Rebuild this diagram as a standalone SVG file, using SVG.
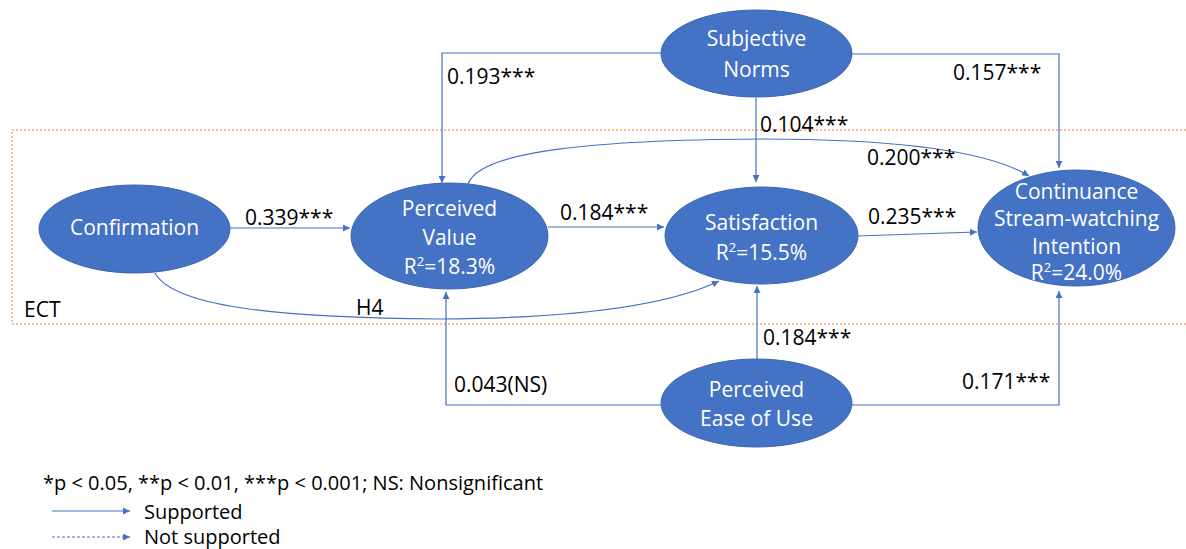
<svg xmlns="http://www.w3.org/2000/svg" width="1186" height="549" viewBox="0 0 1186 549">
<style>
.node{fill:#4472C4;stroke:#3C66B0;stroke-width:1}
.nt{font-family:"Open Sans","Noto Sans",sans-serif;font-size:21px;fill:#FFFFFF;text-anchor:middle}
.lb{font-family:"Open Sans","Noto Sans",sans-serif;font-size:21px;fill:#000000}
.lg{font-family:"Open Sans","Noto Sans",sans-serif;font-size:20px;fill:#000000}
.ln{fill:none;stroke:#4472C4;stroke-width:1.2}
.ect{fill:none;stroke:#ED7D31;stroke-width:1;stroke-dasharray:2 2}
</style>
<defs>
<marker id="ah" viewBox="0 0 10 10" refX="10" refY="5" markerWidth="7" markerHeight="7" markerUnits="userSpaceOnUse" orient="auto">
<path d="M0,0 L10,5 L0,10 z" fill="#4472C4"/>
</marker>
</defs>
<rect id="ect-box" class="ect" x="12" y="130" width="1200" height="194"/>
<text class="lb" x="24" y="317">ECT</text>
<g id="connectors">
<path class="ln" d="M230,228 L350,228" marker-end="url(#ah)"/>
<path class="ln" d="M548,227 L664,227" marker-end="url(#ah)"/>
<path class="ln" d="M857,236 L977,232" marker-end="url(#ah)"/>
<path class="ln" d="M468,184 C480,150 600,140 760,139 C900,139 990,152 1029,176" marker-end="url(#ah)"/>
<path class="ln" d="M661,53 L442,53 L442,183" marker-end="url(#ah)"/>
<path class="ln" d="M756,98 L756,182" marker-end="url(#ah)"/>
<path class="ln" d="M852,54 L1059,54 L1059,168" marker-end="url(#ah)"/>
<path class="ln" d="M661,405 L446,405 L446,292" marker-end="url(#ah)"/>
<path class="ln" d="M757,359 L757,286" marker-end="url(#ah)"/>
<path class="ln" d="M852,405 L1059,405 L1059,291" marker-end="url(#ah)"/>
<path class="ln" d="M155,273 C175,310 300,318 440,319 C600,318 680,300 719,281" marker-end="url(#ah)"/>
</g>
<g id="edge-labels">
<text class="lb" x="245" y="225">0.339***</text>
<text class="lb" x="560" y="220">0.184***</text>
<text class="lb" x="868" y="224">0.235***</text>
<text class="lb" x="867" y="165">0.200***</text>
<text class="lb" x="447" y="84">0.193***</text>
<text class="lb" x="760" y="132">0.104***</text>
<text class="lb" x="953" y="80">0.157***</text>
<text class="lb" x="454" y="392">0.043(NS)</text>
<text class="lb" x="763" y="345">0.184***</text>
<text class="lb" x="962" y="389">0.171***</text>
<text class="lb" x="356" y="315">H4</text>
</g>
<g id="confirmation">
<ellipse class="node" cx="134.5" cy="229" rx="95.5" ry="44"/>
<text class="nt" x="134.5" y="235">Confirmation</text>
</g>
<g id="perceived-value">
<ellipse class="node" cx="449.5" cy="236" rx="98.5" ry="53"/>
<text class="nt" x="449.5" y="216">Perceived</text>
<text class="nt" x="449.5" y="245">Value</text>
<text class="nt" x="449.5" y="274">R<tspan font-size="13" dy="-8">2</tspan><tspan dy="8">=18.3%</tspan></text>
</g>
<g id="satisfaction">
<ellipse class="node" cx="761.5" cy="235.5" rx="96.5" ry="48.5"/>
<text class="nt" x="761.5" y="230">Satisfaction</text>
<text class="nt" x="761.5" y="260">R<tspan font-size="13" dy="-8">2</tspan><tspan dy="8">=15.5%</tspan></text>
</g>
<g id="continuance">
<ellipse class="node" cx="1076.5" cy="228" rx="98.5" ry="58"/>
<text class="nt" x="1076.5" y="199">Continuance</text>
<text class="nt" x="1076.5" y="226">Stream-watching</text>
<text class="nt" x="1076.5" y="254">Intention</text>
<text class="nt" x="1076.5" y="280">R<tspan font-size="13" dy="-8">2</tspan><tspan dy="8">=24.0%</tspan></text>
</g>
<g id="subjective-norms">
<ellipse class="node" cx="756.5" cy="53.5" rx="95.5" ry="43.5"/>
<text class="nt" x="756.5" y="46">Subjective</text>
<text class="nt" x="756.5" y="77">Norms</text>
</g>
<g id="perceived-ease-of-use">
<ellipse class="node" cx="756.5" cy="403" rx="95.5" ry="44"/>
<text class="nt" x="756.5" y="397">Perceived</text>
<text class="nt" x="756.5" y="426">Ease of Use</text>
</g>
<g id="legend">
<text class="lg" x="43" y="490">*p &lt; 0.05, **p &lt; 0.01, ***p &lt; 0.001; NS: Nonsignificant</text>
<path class="ln" d="M52,511 L130,511" marker-end="url(#ah)"/>
<text class="lg" x="144" y="519">Supported</text>
<path class="ln" d="M52,537 L130,537" stroke-dasharray="3 2" marker-end="url(#ah)"/>
<text class="lg" x="144" y="544">Not supported</text>
</g>
</svg>
